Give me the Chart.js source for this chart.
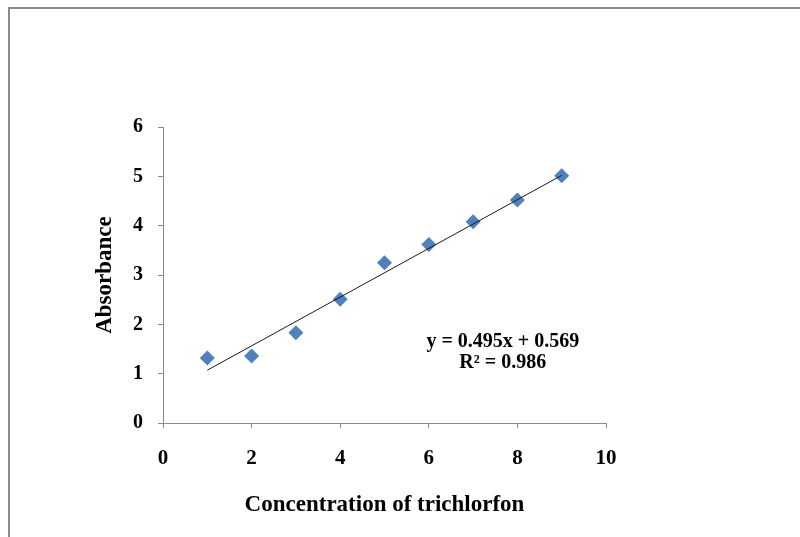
<!DOCTYPE html>
<html>
<head>
<meta charset="utf-8">
<title>Absorbance vs concentration of trichlorfon</title>
<script src="https://cdn.jsdelivr.net/npm/chart.js@4.4.1/dist/chart.umd.min.js"></script>
<style>
  html, body { margin: 0; padding: 0; background: #fff; overflow: hidden; }
  #wrap { position: relative; width: 800px; height: 537px; }
  #frame {
    position: absolute; left: 8px; top: 7px; width: 820px; height: 560px;
    border-top: 2px solid #8a8a8a; border-left: 2px solid #8a8a8a;
  }
  canvas { position: absolute; left: 0; top: 0; }
</style>
</head>
<body>
<div id="wrap">
  <div id="frame"></div>
  <canvas id="chart" width="800" height="537"></canvas>
</div>
<script>
/* ─── Datos ─────────────────────────────────────── */
const concentration = [1, 2, 3, 4, 5, 6, 7, 8, 9];
const absorbance    = [1.32, 1.36, 1.83, 2.51, 3.25, 3.62, 4.08, 4.52, 5.01];

// extremos de la recta de tendencia (tal como aparece dibujada)
const trendX = [1, 9];
const trendY = [1.07, 5.02];

const xTicks = [0, 2, 4, 6, 8, 10];
const yTicks = [0, 1, 2, 3, 4, 5, 6];

const equationLines = ['y = 0.495x + 0.569', 'R² = 0.986'];
const equationAnchor = { x: 7.67, y: [1.64, 1.22] };

/* ─── Estilo ───────────────────────────────────── */
const AXIS = '#8a8a8a';
const MARKER = '#4F81BD';
const SERIF = "'Liberation Serif', 'Times New Roman', serif";

/* ─── Plugin: texto de la ecuación ─────────────── */
const equationLabel = {
  id: 'equationLabel',
  afterDatasetsDraw(chart) {
    const { ctx, scales: { x, y } } = chart;
    ctx.save();
    ctx.font = 'bold 20px ' + SERIF;
    ctx.fillStyle = '#000';
    ctx.textAlign = 'center';
    ctx.textBaseline = 'middle';
    equationLines.forEach((t, i) => {
      ctx.fillText(t, x.getPixelForValue(equationAnchor.x), y.getPixelForValue(equationAnchor.y[i]));
    });
    ctx.restore();
  },
};

new Chart(document.getElementById('chart'), {
  type: 'scatter',
  data: {
    datasets: [
      {
        label: 'Absorbance',
        data: concentration.map((c, i) => ({ x: c, y: absorbance[i] })),
        pointStyle: 'rectRot',
        pointRadius: 7.5,
        pointHoverRadius: 7.5,
        pointBackgroundColor: MARKER,
        pointBorderColor: MARKER,
        pointBorderWidth: 0,
        order: 2,
      },
      {
        label: 'Linear',
        type: 'line',
        data: trendX.map((c, i) => ({ x: c, y: trendY[i] })),
        borderColor: '#1a1a1a',
        borderWidth: 1,
        pointRadius: 0,
        fill: false,
        order: 1,
      },
    ],
  },
  options: {
    responsive: false,
    animation: false,
    layout: { padding: { left: 94, right: 194, top: 127, bottom: 20 } },
    plugins: {
      legend: { display: false },
      tooltip: { enabled: false },
    },
    scales: {
      x: {
        type: 'linear',
        min: 0,
        max: 10,
        afterBuildTicks: s => { s.ticks = xTicks.map(v => ({ value: v })); },
        afterFit: s => { s.height = 94; },
        border: { color: AXIS, width: 1 },
        grid: { drawOnChartArea: false, drawTicks: true, tickLength: 5, color: AXIS },
        ticks: { color: '#000', padding: 18, font: { family: SERIF, size: 21, weight: 'bold' } },
        title: {
          display: true,
          text: 'Concentration of trichlorfon',
          color: '#000',
          padding: 0,
          font: { family: SERIF, size: 23, weight: 'bold', lineHeight: 1 },
        },
      },
      y: {
        type: 'linear',
        min: 0,
        max: 6,
        afterBuildTicks: s => { s.ticks = yTicks.map(v => ({ value: v })); },
        afterFit: s => { s.width = 69; },
        border: { color: AXIS, width: 1 },
        grid: { drawOnChartArea: false, drawTicks: true, tickLength: 5, color: AXIS },
        ticks: { color: '#000', padding: 15, font: { family: SERIF, size: 20, weight: 'bold' } },
        title: {
          display: true,
          text: 'Absorbance',
          color: '#000',
          padding: 0,
          font: { family: SERIF, size: 23, weight: 'bold', lineHeight: 1 },
        },
      },
    },
  },
  plugins: [equationLabel],
});
</script>
</body>
</html>
